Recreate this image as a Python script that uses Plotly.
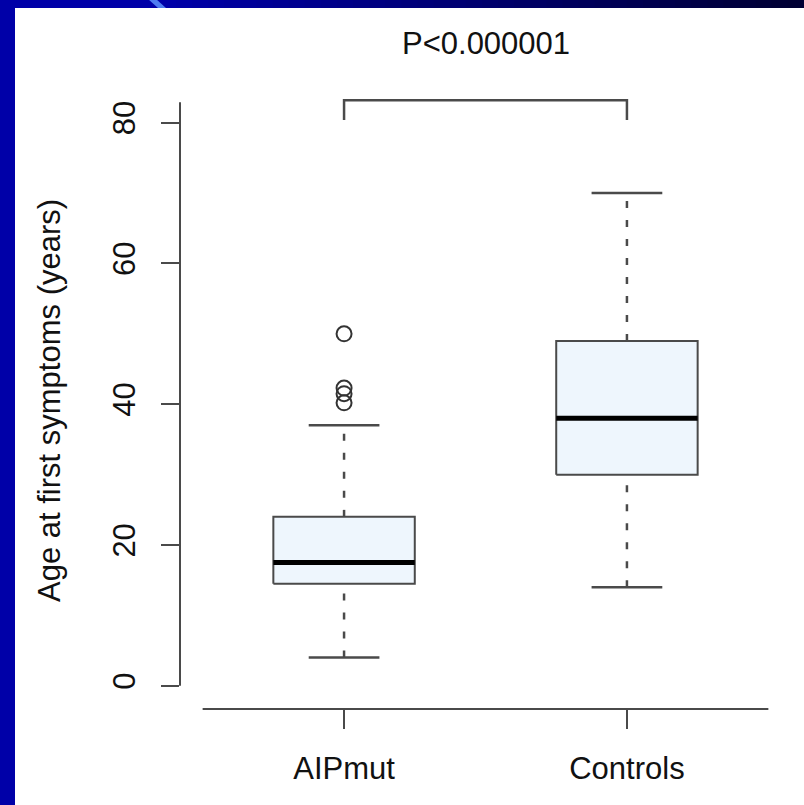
import plotly.graph_objects as go

# ---- data ----
categories = ["AIPmut", "Controls"]
lower_whisker = [4, 14]
q1 = [14.5, 30]
median = [17.5, 38]
q3 = [24, 49]
upper_whisker = [37, 70]
outliers_aip = [50, 42.3, 41.5, 40.2]
y_ticks = [0, 20, 40, 60, 80]
p_label = "P<0.000001"

W, H = 804, 805
L, R, T, B = 180, 13, 27, 96
PW, PH = W - L - R, H - T - B
PB = H - B

def fx(px):
    return (px - L) / PW

def fy(py):
    return (PB - py) / PH

FONT = "Liberation Sans, Arial, Helvetica, sans-serif"
LINE = "#4a4a4a"
FILL = "#eef6fd"

pos = [1, 2]
hw = 0.25
cw = 0.125

fig = go.Figure()

for i, p in enumerate(pos):
    # box
    fig.add_trace(go.Scatter(
        x=[p - hw, p + hw, p + hw, p - hw, p - hw],
        y=[q1[i], q1[i], q3[i], q3[i], q1[i]],
        mode="lines", fill="toself", fillcolor=FILL,
        line=dict(color=LINE, width=2), hoverinfo="skip", showlegend=False))
    # whiskers dashed
    for a, b in [(lower_whisker[i], q1[i]), (q3[i], upper_whisker[i])]:
        fig.add_trace(go.Scatter(
            x=[p, p], y=[a, b], mode="lines",
            line=dict(color=LINE, width=2.5, dash="7px,12px"),
            hoverinfo="skip", showlegend=False))
    # caps
    for v in [lower_whisker[i], upper_whisker[i]]:
        fig.add_trace(go.Scatter(
            x=[p - cw, p + cw], y=[v, v], mode="lines",
            line=dict(color=LINE, width=2.5), hoverinfo="skip", showlegend=False))
    # median
    fig.add_trace(go.Scatter(
        x=[p - hw, p + hw], y=[median[i], median[i]], mode="lines",
        line=dict(color="#000000", width=5), hoverinfo="skip", showlegend=False))

# outliers
fig.add_trace(go.Scatter(
    x=[pos[0]] * len(outliers_aip), y=outliers_aip, mode="markers",
    marker=dict(symbol="circle-open", size=15, color="#333333", line=dict(width=2)),
    hoverinfo="skip", showlegend=False))

# significance bracket
fig.add_trace(go.Scatter(
    x=[pos[0], pos[0], pos[1], pos[1]], y=[80.4, 83.2, 83.2, 80.4], mode="lines",
    line=dict(color=LINE, width=2.5), hoverinfo="skip", showlegend=False, cliponaxis=False))

shapes = []
# white panel
shapes.append(dict(type="rect", xref="paper", yref="paper",
                   x0=fx(15), x1=fx(806), y0=fy(807), y1=fy(8),
                   fillcolor="white", line=dict(width=0), layer="below"))
# top gradient bar
n = 40
x_start = 160
for k in range(n):
    a = x_start + (W - x_start) * k / n
    b = x_start + (W - x_start) * (k + 1) / n + 1
    t = k / (n - 1)
    bl = int(168 + (52 - 168) * t)
    shapes.append(dict(type="rect", xref="paper", yref="paper",
                       x0=fx(a), x1=fx(b), y0=fy(8), y1=fy(-2),
                       fillcolor=f"rgb(0,0,{bl})", line=dict(width=0), layer="below"))
# light streak
shapes.append(dict(type="path", xref="paper", yref="paper",
                   path=f"M {fx(148)} {fy(-1)} L {fx(156)} {fy(-1)} L {fx(166)} {fy(8)} L {fx(158)} {fy(8)} Z",
                   fillcolor="#4f7cf0", line=dict(width=0), layer="below"))
# axis lines
shapes.append(dict(type="line", xref="paper", yref="y", x0=0, x1=0, y0=0, y1=82.9,
                   line=dict(color=LINE, width=2)))
shapes.append(dict(type="line", xref="x", yref="paper", x0=0.5, x1=2.5, y0=0, y1=0,
                   line=dict(color=LINE, width=2)))

fig.update_layout(
    width=W, height=H,
    margin=dict(l=L, r=R, t=T, b=B, pad=0),
    paper_bgcolor="#0000a8",
    plot_bgcolor="rgba(0,0,0,0)",
    shapes=shapes,
    showlegend=False,
    font=dict(family=FONT, color="#111111", size=31),
    xaxis=dict(range=[0.42, 2.58], tickvals=pos, ticktext=categories,
               showgrid=False, zeroline=False, showline=False,
               ticks="outside", ticklen=19, tickwidth=2, tickcolor=LINE,
               tickfont=dict(family=FONT, size=31, color="#111111"),
               ticklabelstandoff=13),
    yaxis=dict(range=[-3.3, 93.6], tickvals=y_ticks,
               showgrid=False, zeroline=False, showline=False,
               ticks="outside", ticklen=18, tickwidth=2, tickcolor=LINE,
               tickangle=-90,
               tickfont=dict(family=FONT, size=31, color="#111111"),
               ticklabelstandoff=14),
    annotations=[
        dict(text=p_label, x=1.5, y=91.2, xref="x", yref="y", showarrow=False,
             xanchor="center", yanchor="middle",
             font=dict(family=FONT, size=31, color="#111111")),
        dict(text="Age at first symptoms (years)", x=fx(50), y=fy(401),
             xref="paper", yref="paper", showarrow=False, textangle=-90,
             xanchor="center", yanchor="middle",
             font=dict(family=FONT, size=31, color="#111111")),
    ],
)

fig.write_html(
    "out.html",
    config={"displayModeBar": False, "staticPlot": True},
    post_script="document.body.style.margin='0';document.body.style.padding='0';"
                "document.body.style.overflow='hidden';",
)
